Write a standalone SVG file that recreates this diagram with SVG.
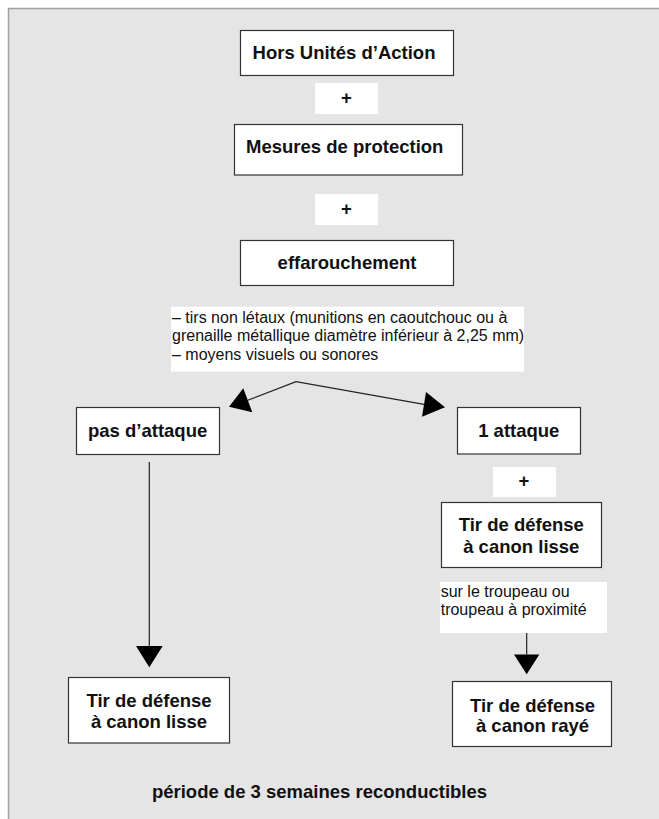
<svg xmlns="http://www.w3.org/2000/svg" width="659" height="819" viewBox="0 0 659 819">
<style>
  .box { fill: #ffffff; stroke: #333333; stroke-width: 1.2; }
  .plus { fill: #ffffff; stroke: none; }
  .note { fill: #ffffff; stroke: none; }
  .t { font-family: "Liberation Sans", Arial, sans-serif; font-weight: bold; font-size: 18.5px; fill: #111111; text-anchor: middle; }
  .n { font-family: "Liberation Sans", Arial, sans-serif; font-size: 16px; fill: #111111; }
  .line { fill: none; stroke: #222222; stroke-width: 1.2; }
  .head { fill: #000000; stroke: none; }
</style>
<rect x="8.5" y="8.5" width="660" height="820" fill="#e5e5e5" stroke="#a0a0a0" stroke-width="1.5"/>

<g id="node-hors">
  <rect class="box" x="240.5" y="30.5" width="213" height="45"/>
  <text class="t" x="344" y="59">Hors Unités d’Action</text>
</g>
<g id="plus-1">
  <rect class="plus" x="315" y="83" width="63" height="31"/>
  <text class="t" x="346.5" y="104">+</text>
</g>
<g id="node-mesures">
  <rect class="box" x="234.5" y="124.5" width="228" height="50.5"/>
  <text class="t" x="344.7" y="153">Mesures de protection</text>
</g>
<g id="plus-2">
  <rect class="plus" x="315" y="194" width="63" height="31"/>
  <text class="t" x="346.5" y="215">+</text>
</g>
<g id="node-effarouchement">
  <rect class="box" x="240.5" y="240.5" width="213" height="45"/>
  <text class="t" x="347" y="268.5">effarouchement</text>
</g>
<g id="note-tirs">
  <rect class="note" x="171" y="306.7" width="353" height="65"/>
  <text class="n" x="172" y="322.5">– tirs non létaux (munitions en caoutchouc ou à</text>
  <text class="n" x="172" y="341">grenaille métallique diamètre inférieur à 2,25 mm)</text>
  <text class="n" x="172" y="359.5">– moyens visuels ou sonores</text>
</g>
<g id="node-pas-attaque">
  <rect class="box" x="76.5" y="407.5" width="143" height="47"/>
  <text class="t" x="147.6" y="436.5">pas d’attaque</text>
</g>
<g id="node-1-attaque">
  <rect class="box" x="457.5" y="407.5" width="123" height="46.5"/>
  <text class="t" x="518.8" y="436.5">1 attaque</text>
</g>
<g id="plus-3">
  <rect class="plus" x="493" y="467" width="63" height="30"/>
  <text class="t" x="524" y="486.5">+</text>
</g>
<g id="node-tir-lisse-right">
  <rect class="box" x="441.5" y="502.5" width="160" height="65"/>
  <text class="t" x="521.3" y="530.7">Tir de défense</text>
  <text class="t" x="521.3" y="553.3">à canon lisse</text>
</g>
<g id="note-troupeau">
  <rect class="note" x="440" y="582" width="167" height="51"/>
  <text class="n" x="440.7" y="597">sur le troupeau ou</text>
  <text class="n" x="440.7" y="614.5">troupeau à proximité</text>
</g>
<g id="node-tir-lisse-left">
  <rect class="box" x="68.5" y="677.5" width="161" height="65.5"/>
  <text class="t" x="149" y="706.7">Tir de défense</text>
  <text class="t" x="149" y="727.7">à canon lisse</text>
</g>
<g id="node-tir-raye">
  <rect class="box" x="452.5" y="681.5" width="159" height="65"/>
  <text class="t" x="532.5" y="711.7">Tir de défense</text>
  <text class="t" x="532.5" y="732">à canon rayé</text>
</g>
<g id="footer">
  <text class="t" x="319.5" y="798">période de 3 semaines reconductibles</text>
</g>

<g id="connectors">
  <polyline class="line" points="247.8,400.3 296,381.7 424,404.3"/>
  <polygon class="head" points="229,406.7 243.3,388.3 252.3,412.3"/>
  <polygon class="head" points="445,407.3 426,392 422,416.7"/>
  <line class="line" x1="149.3" y1="462" x2="149.3" y2="646"/>
  <polygon class="head" points="136,646 162.7,646 149.3,667.3"/>
  <line class="line" x1="526.7" y1="633" x2="526.7" y2="654.5"/>
  <polygon class="head" points="514,654.5 539.3,654.5 526.7,674.3"/>
</g>
</svg>
